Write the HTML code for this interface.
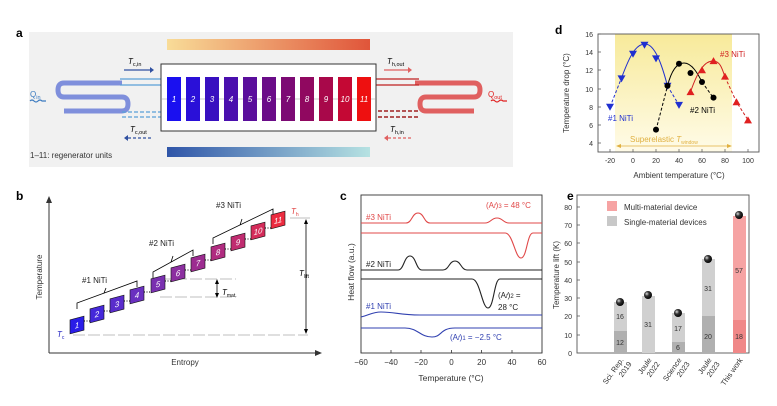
<!DOCTYPE html>
<html><head><meta charset="utf-8"><style>
html,body{margin:0;padding:0;background:#fff}
svg{display:block;font-family:"Liberation Sans",sans-serif}
</style></head><body>
<svg width="777" height="406" viewBox="0 0 777 406" xmlns="http://www.w3.org/2000/svg">
<defs>
<linearGradient id="gt" x1="0" x2="1"><stop offset="0" stop-color="#f8dc98"/><stop offset="1" stop-color="#e0553a"/></linearGradient>
<linearGradient id="gb" x1="0" x2="1"><stop offset="0" stop-color="#2f55a8"/><stop offset="1" stop-color="#b6e2e2"/></linearGradient>
<linearGradient id="gy" x1="0" y1="0" x2="0" y2="1"><stop offset="0" stop-color="#f7ea9a"/><stop offset="1" stop-color="#fffbe8"/></linearGradient>
<radialGradient id="ball" cx="0.35" cy="0.35" r="0.7"><stop offset="0" stop-color="#ddd"/><stop offset="0.4" stop-color="#333"/><stop offset="1" stop-color="#000"/></radialGradient>
</defs>

<!-- Panel a -->
<text x="16" y="37" font-size="12" font-weight="bold">a</text>
<rect x="29" y="32" width="484" height="135" fill="#f1f1f1"/>
<rect x="167" y="39" width="203" height="11" fill="url(#gt)"/>
<rect x="167" y="147" width="203" height="10" fill="url(#gb)"/>
<!-- left coil -->
<path d="M122 83 H64 Q58 83 58 90 Q58 97 64 97 H122 Q128 97 128 104 Q128 111 122 111 H64" fill="none" stroke="#7f8fdc" stroke-width="5"/>
<path d="M120 79 H161 M120 85 H161" stroke="#5aa0d8" stroke-width="1.2"/>
<path d="M122 112 H161 M122 117 H161" stroke="#5aa0d8" stroke-width="1.2" stroke-dasharray="4 2"/>
<path d="M124 70 H150" stroke="#3050a0" stroke-width="1.2"/><path d="M150 67 L154 70 L150 73z" fill="#3050a0"/>
<text x="128" y="64" font-size="8" font-style="italic">T<tspan font-size="5.5" font-style="normal" dy="2">c,in</tspan></text>
<path d="M128 138 H152" stroke="#3050a0" stroke-width="1.2" stroke-dasharray="3 2"/><path d="M128 135 L124 138 L128 141z" fill="#3050a0"/>
<text x="130" y="132" font-size="8" font-style="italic">T<tspan font-size="5.5" font-style="normal" dy="2">c,out</tspan></text>
<text x="30" y="97" font-size="8" fill="#3a7ac0">Q<tspan font-size="5.5" dy="2">in</tspan></text>
<path d="M30 101 q2 -2 4 0 q2 2 4 0 q2 -2 4 0 l4 0" stroke="#3a7ac0" fill="none" stroke-width="1.2"/>
<!-- right coil -->
<path d="M415 83 H474 Q480 83 480 90 Q480 97 474 97 H426 Q420 97 420 104 Q420 111 426 111 H474" fill="none" stroke="#e06060" stroke-width="5"/>
<path d="M376 79 H419 M376 85 H419" stroke="#c02020" stroke-width="1.3"/>
<path d="M378 111 H419 M378 117 H419" stroke="#a02020" stroke-width="1.5" stroke-dasharray="4 2"/>
<path d="M384 70 H408" stroke="#e06060" stroke-width="1.2"/><path d="M408 67 L412 70 L408 73z" fill="#e06060"/>
<text x="387" y="64" font-size="8" font-style="italic">T<tspan font-size="5.5" font-style="normal" dy="2">h,out</tspan></text>
<path d="M388 138 H412" stroke="#e06060" stroke-width="1.2" stroke-dasharray="3 2"/><path d="M388 135 L384 138 L388 141z" fill="#e06060"/>
<text x="390" y="132" font-size="8" font-style="italic">T<tspan font-size="5.5" font-style="normal" dy="2">h,in</tspan></text>
<text x="488" y="97" font-size="8" fill="#e02020">Q<tspan font-size="5.5" dy="2">out</tspan></text>
<path d="M491 101 q2 -2 4 0 q2 2 4 0 q2 -2 4 0 l4 0" stroke="#e02020" fill="none" stroke-width="1.2"/>
<!-- box -->
<rect x="161" y="64" width="215" height="67" fill="#fff" stroke="#333" stroke-width="1"/>
<line x1="161" y1="99" x2="376" y2="99" stroke="#999" stroke-width="0.6"/>
<g font-size="8" font-style="italic" fill="#fff" text-anchor="middle">
<rect x="167" y="77" width="14" height="44" fill="#1a10f0"/><text x="174" y="102">1</text>
<rect x="186" y="77" width="14" height="44" fill="#2a10d8"/><text x="193" y="102">2</text>
<rect x="205" y="77" width="14" height="44" fill="#3810c0"/><text x="212" y="102">3</text>
<rect x="224" y="77" width="14" height="44" fill="#4a0fae"/><text x="231" y="102">4</text>
<rect x="243" y="77" width="14" height="44" fill="#5a0e9c"/><text x="250" y="102">5</text>
<rect x="262" y="77" width="14" height="44" fill="#6a0c88"/><text x="269" y="102">6</text>
<rect x="281" y="77" width="14" height="44" fill="#7c0a74"/><text x="288" y="102">7</text>
<rect x="300" y="77" width="14" height="44" fill="#900860"/><text x="307" y="102">8</text>
<rect x="319" y="77" width="14" height="44" fill="#a8084a"/><text x="326" y="102">9</text>
<rect x="338" y="77" width="14" height="44" fill="#c40834"/><text x="345" y="102">10</text>
<rect x="357" y="77" width="14" height="44" fill="#ee1010"/><text x="364" y="102">11</text>
</g>
<text x="30" y="158" font-size="8" fill="#333">1–11: regenerator units</text>

<!-- Panel b -->
<text x="16" y="200" font-size="12" font-weight="bold">b</text>
<path d="M49 353 V200" stroke="#333" stroke-width="1"/><path d="M46 203 L49 196 L52 203z" fill="#333"/>
<path d="M49 353 H318" stroke="#333" stroke-width="1"/><path d="M315 350 L322 353 L315 356z" fill="#333"/>
<text x="185" y="365" font-size="8" text-anchor="middle" fill="#333">Entropy</text>
<text transform="translate(42,277) rotate(-90)" font-size="8" text-anchor="middle" fill="#333">Temperature</text>
<path d="M73 335 H308" stroke="#aaa" stroke-width="0.8" stroke-dasharray="12 3"/>
<path d="M160 279 H236 M160 297 H236" stroke="#aaa" stroke-width="0.8" stroke-dasharray="12 3"/>
<path d="M290 218 H310" stroke="#aaa" stroke-width="0.8"/>
<path d="M306 220 V333" stroke="#000" stroke-width="0.8"/><path d="M304 224 L306 219 L308 224z M304 329 L306 334 L308 329z"/>
<text x="299" y="276" font-size="8" font-style="italic">T<tspan font-size="5" font-style="normal" dy="2">lift</tspan></text>
<path d="M217 281 V296" stroke="#000" stroke-width="0.8"/><path d="M215 284 L217 279 L219 284z M215 293 L217 298 L219 293z"/>
<text x="222" y="295" font-size="8" font-style="italic">T<tspan font-size="5" font-style="normal" dy="2">mat.</tspan></text>
<text x="57" y="337" font-size="8" font-style="italic" fill="#2020c0">T<tspan font-size="5" font-style="normal" dy="2">c</tspan></text>
<text x="291" y="214" font-size="8" font-style="italic" fill="#e04040">T<tspan font-size="5" font-style="normal" dy="2">h</tspan></text>
<g stroke="#000" stroke-width="0.8" fill="none">
<path d="M77 309 V303 L137 281 V287 M104 293 L106 288"/>
<path d="M153 278 V272 L193 250 V256 M171 262 L173 256"/>
<path d="M213 244 V238 L273 209 V215 M240 225 L242 219"/>
</g>
<g font-size="8" fill="#222">
<text x="82" y="283">#1 NiTi</text><text x="149" y="246">#2 NiTi</text><text x="216" y="208">#3 NiTi</text>
</g>
<g font-size="8" font-style="italic" fill="#fff" text-anchor="middle">
<g transform="translate(77,325) skewY(-15)"><rect x="-7" y="-7" width="14" height="14" fill="#2a1de8" stroke="#111" stroke-width="0.6"/><text y="3">1</text></g>
<g transform="translate(97,314) skewY(-15)"><rect x="-7" y="-7" width="14" height="14" fill="#4528da" stroke="#111" stroke-width="0.6"/><text y="3">2</text></g>
<g transform="translate(117,304) skewY(-15)"><rect x="-7" y="-7" width="14" height="14" fill="#5a2ccc" stroke="#111" stroke-width="0.6"/><text y="3">3</text></g>
<g transform="translate(137,295) skewY(-15)"><rect x="-7" y="-7" width="14" height="14" fill="#6a30c0" stroke="#111" stroke-width="0.6"/><text y="3">4</text></g>
<g transform="translate(158,284) skewY(-15)"><rect x="-7" y="-7" width="14" height="14" fill="#7a30b0" stroke="#111" stroke-width="0.6"/><text y="3">5</text></g>
<g transform="translate(178,273) skewY(-15)"><rect x="-7" y="-7" width="14" height="14" fill="#8c30a0" stroke="#111" stroke-width="0.6"/><text y="3">6</text></g>
<g transform="translate(198,263) skewY(-15)"><rect x="-7" y="-7" width="14" height="14" fill="#9c2c90" stroke="#111" stroke-width="0.6"/><text y="3">7</text></g>
<g transform="translate(218,252) skewY(-15)"><rect x="-7" y="-7" width="14" height="14" fill="#b02c80" stroke="#111" stroke-width="0.6"/><text y="3">8</text></g>
<g transform="translate(238,242) skewY(-15)"><rect x="-7" y="-7" width="14" height="14" fill="#c02c70" stroke="#111" stroke-width="0.6"/><text y="3">9</text></g>
<g transform="translate(258,231) skewY(-15)"><rect x="-7" y="-7" width="14" height="14" fill="#d42c5a" stroke="#111" stroke-width="0.6"/><text y="3">10</text></g>
<g transform="translate(278,220) skewY(-15)"><rect x="-7" y="-7" width="14" height="14" fill="#ec2c40" stroke="#111" stroke-width="0.6"/><text y="3">11</text></g>
</g>
<g stroke="#000" stroke-width="0.9" stroke-dasharray="1 1.5">
<path d="M84 321 H90 M104 311 H110 M124 301 H130 M144 292 H151 M165 281 H171 M185 270 H191 M205 260 H211 M225 249 H231 M245 239 H251 M265 228 H271"/>
</g>

<!-- Panel c -->
<text x="340" y="200" font-size="12" font-weight="bold">c</text>
<rect x="361" y="195" width="181" height="158" fill="none" stroke="#333" stroke-width="0.9"/>
<g font-size="8" fill="#333" text-anchor="middle">
<text x="361" y="365">−60</text><text x="391" y="365">−40</text><text x="421" y="365">−20</text><text x="451.5" y="365">0</text><text x="481.6" y="365">20</text><text x="512" y="365">40</text><text x="542" y="365">60</text>
<text x="451" y="381" font-size="8.5">Temperature (°C)</text>
<text transform="translate(354,272) rotate(-90)" font-size="8.5">Heat flow (a.u.)</text>
</g>
<g stroke="#333" stroke-width="0.8"><path d="M361 353 v-3 M391 353 v-3 M421 353 v-3 M451.5 353 v-3 M481.6 353 v-3 M512 353 v-3 M542 353 v-3"/></g>
<g fill="none" stroke-width="1.1">
<path d="M361 223 H406 C412 223 412 213 418 213 C424 213 424 223 430 223 H485 C491 223 491 218 497 218 C503 218 503 223 509 223 H542" stroke="#e04848"/>
<path d="M361 233 H505 C513 233 515 258 521 258 C527 258 527 233 533 233 H542" stroke="#e04848"/>
<path d="M361 270 H398 C404 270 404 256 410 256 C416 256 416 270 422 270 H443 C449 270 449 261 455 261 C461 261 461 270 467 270 H542" stroke="#222"/>
<path d="M361 279 H472 C480 279 482 308 488 308 C494 308 494 279 500 279 H542" stroke="#222"/>
<path d="M361 317 C370 315 372 312 381 312 C395 312 400 315 420 315 H542" stroke="#3040b0"/>
<path d="M361 328 H405 C418 328 420 337 432 337 C442 337 440 328 455 328 H542" stroke="#3040b0"/>
</g>
<g font-size="8">
<text x="366" y="220" fill="#e04848">#3 NiTi</text>
<text x="486" y="208" fill="#e04848">(A<tspan font-style="italic" font-size="6">f</tspan>)<tspan font-size="6">3</tspan> = 48 °C</text>
<text x="366" y="267" fill="#222">#2 NiTi</text>
<text x="498" y="298" fill="#222">(A<tspan font-style="italic" font-size="6">f</tspan>)<tspan font-size="6">2</tspan> =</text>
<text x="498" y="310" fill="#222">28 °C</text>
<text x="366" y="309" fill="#3040b0">#1 NiTi</text>
<text x="450" y="340" fill="#3040b0">(A<tspan font-style="italic" font-size="6">f</tspan>)<tspan font-size="6">1</tspan> = −2.5 °C</text>
</g>

<!-- Panel d -->
<text x="555" y="34" font-size="12" font-weight="bold">d</text>
<rect x="615" y="34" width="117" height="118" fill="url(#gy)"/>
<rect x="598" y="34" width="161" height="118" fill="none" stroke="#555" stroke-width="0.9"/>
<g font-size="7" fill="#333" text-anchor="end">
<text x="593" y="37">16</text><text x="593" y="55">14</text><text x="593" y="73">12</text><text x="593" y="92">10</text><text x="593" y="110">8</text><text x="593" y="128">6</text><text x="593" y="146">4</text>
</g>
<g stroke="#555" stroke-width="0.7"><path d="M598 34 h3 M598 52 h3 M598 70 h3 M598 89 h3 M598 107 h3 M598 125 h3 M598 143 h3 M610 152 v-3 M633 152 v-3 M656 152 v-3 M679 152 v-3 M702 152 v-3 M725 152 v-3 M748 152 v-3"/></g>
<g font-size="7" fill="#333" text-anchor="middle">
<text x="610" y="163">-20</text><text x="633" y="163">0</text><text x="656" y="163">20</text><text x="679" y="163">40</text><text x="702" y="163">60</text><text x="725" y="163">80</text><text x="748" y="163">100</text>
<text x="679" y="178" font-size="8">Ambient temperature (°C)</text>
<text transform="translate(569,93) rotate(-90)" font-size="8">Temperature drop (°C)</text>
</g>
<path d="M618 146 H730" stroke="#e0b040" stroke-width="0.8"/><path d="M621 144 L616 146 L621 148z M727 144 L732 146 L727 148z" fill="#e0b040"/>
<text x="630" y="142" font-size="8" fill="#e0b040">Superelastic <tspan font-style="italic">T</tspan><tspan font-size="5" dy="2">window</tspan></text>
<g fill="none" stroke-width="1">
<path d="M610 107 L621.5 78" stroke="#2030d0" stroke-dasharray="3 2"/>
<path d="M621.5 78 C630 55 636 44 645 44 C655 44 662 65 667.5 86" stroke="#2030d0"/>
<path d="M667.5 86 L679 105" stroke="#2030d0" stroke-dasharray="3 2"/>
<path d="M656 130 L667.5 86" stroke="#000" stroke-dasharray="3 2"/>
<path d="M667.5 86 C672 68 678 63 684 63 C692 63 698 74 702 82" stroke="#000"/>
<path d="M702 82 L713.5 98" stroke="#000" stroke-dasharray="3 2"/>
<path d="M690.5 92 C698 70 705 61 713 61 C720 61 722 68 725 77" stroke="#d02020"/>
<path d="M725 77 L736.5 102 L748 120" stroke="#d02020" stroke-dasharray="3 2"/>
</g>
<g fill="#2030d0">
<path d="M606 103.7 h8 l-4 7z M617.5 75.4 h8 l-4 7z M629 50.8 h8 l-4 7z M640.5 41.7 h8 l-4 7z M652 55.4 h8 l-4 7z M663.5 82.7 h8 l-4 7z M675 101.9 h8 l-4 7z"/>
</g>
<g fill="#000"><circle cx="656" cy="129.6" r="3"/><circle cx="667.5" cy="85.7" r="3"/><circle cx="679" cy="63.8" r="3"/><circle cx="690.5" cy="73" r="3"/><circle cx="702" cy="82" r="3"/><circle cx="713.5" cy="97.6" r="3"/></g>
<g fill="#e02020">
<path d="M686.5 95.1 h8 l-4 -7z M698 73.2 h8 l-4 -7z M709.5 64.1 h8 l-4 -7z M721 79.6 h8 l-4 -7z M732.5 105.2 h8 l-4 -7z M744 123.4 h8 l-4 -7z"/>
</g>
<text x="720" y="57" font-size="8" fill="#d02020">#3 NiTi</text>
<text x="690" y="113" font-size="8" fill="#000">#2 NiTi</text>
<text x="608" y="121" font-size="8" fill="#2030d0">#1 NiTi</text>

<!-- Panel e -->
<text x="567" y="200" font-size="12" font-weight="bold">e</text>
<rect x="577" y="195" width="172" height="158" fill="none" stroke="#555" stroke-width="0.9"/>
<g font-size="7" fill="#333" text-anchor="end">
<text x="572" y="210">80</text><text x="572" y="228">70</text><text x="572" y="246">60</text><text x="572" y="265">50</text><text x="572" y="283">40</text><text x="572" y="301">30</text><text x="572" y="319">20</text><text x="572" y="338">10</text><text x="572" y="356">0</text>
</g>
<g stroke="#555" stroke-width="0.7"><path d="M577 207 h3 M577 225 h3 M577 243 h3 M577 262 h3 M577 280 h3 M577 298 h3 M577 316 h3 M577 335 h3"/></g>
<text transform="translate(559,275) rotate(-90)" font-size="8" text-anchor="middle" fill="#333">Temperature lift (K)</text>
<rect x="607" y="201" width="10" height="10" fill="#f6a3a3"/><text x="624" y="210" font-size="8" fill="#333">Multi-material device</text>
<rect x="607" y="216" width="10" height="10" fill="#c8c8c8"/><text x="624" y="225" font-size="8" fill="#333">Single-material devices</text>
<g>
<rect x="614" y="302" width="13" height="29" fill="#d0d0d0"/><rect x="614" y="331" width="13" height="22" fill="#b0b0b0"/>
<rect x="642" y="296" width="13" height="57" fill="#d0d0d0"/>
<rect x="672" y="313" width="13" height="29" fill="#d0d0d0"/><rect x="672" y="342" width="13" height="11" fill="#b0b0b0"/>
<rect x="702" y="259" width="13" height="57" fill="#d0d0d0"/><rect x="702" y="316" width="13" height="37" fill="#b0b0b0"/>
<rect x="733" y="216" width="13" height="104" fill="#f6a3a3"/><rect x="733" y="320" width="13" height="33" fill="#f08888"/>
</g>
<g fill="url(#ball)"><circle cx="620" cy="302" r="4"/><circle cx="648" cy="295" r="4"/><circle cx="678" cy="313" r="4"/><circle cx="708" cy="259" r="4"/><circle cx="739" cy="215" r="4"/></g>
<g font-size="7" fill="#333" text-anchor="middle">
<text x="620" y="319">16</text><text x="620" y="345">12</text><text x="648" y="327">31</text><text x="678" y="331">17</text><text x="678" y="350">6</text>
<text x="708" y="291">31</text><text x="708" y="339">20</text><text x="739" y="273">57</text><text x="739" y="339">18</text>
</g>
<g font-size="7.5" fill="#333" text-anchor="end">
<text transform="translate(624,360) rotate(-55)">Sci. Rep.</text><text transform="translate(632,364) rotate(-55)">2019</text>
<text transform="translate(652,360) rotate(-55)">Joule</text><text transform="translate(660,364) rotate(-55)">2022</text>
<text transform="translate(682,360) rotate(-55)">Science</text><text transform="translate(690,364) rotate(-55)">2023</text>
<text transform="translate(712,360) rotate(-55)">Joule</text><text transform="translate(720,364) rotate(-55)">2023</text>
<text transform="translate(743,360) rotate(-55)">This work</text>
</g>
</svg>
</body></html>
